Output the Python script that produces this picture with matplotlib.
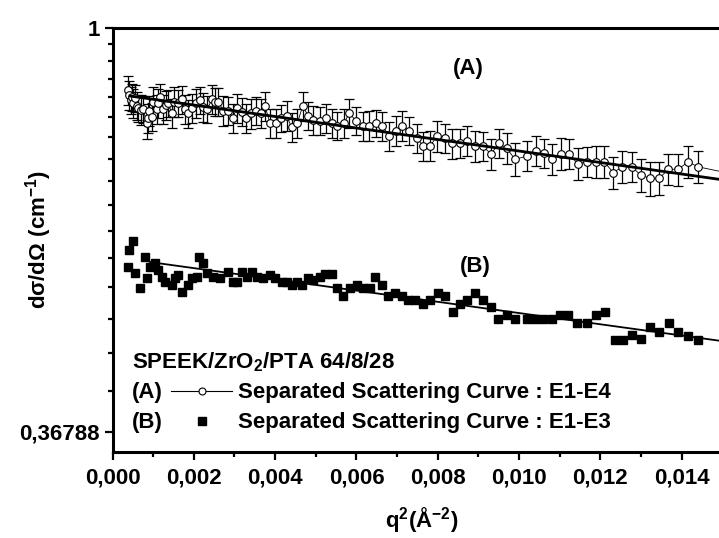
import numpy as np
import matplotlib
matplotlib.use("Agg")
import matplotlib.pyplot as plt
from matplotlib.lines import Line2D
from matplotlib.ticker import FixedLocator, FixedFormatter, MultipleLocator, FuncFormatter

plt.rcParams['font.family'] = ['Liberation Sans', 'DejaVu Sans']
plt.rcParams['font.weight'] = 'bold'
plt.rcParams['mathtext.fontset'] = 'custom'
plt.rcParams['mathtext.rm'] = 'Liberation Sans:bold'
plt.rcParams['mathtext.it'] = 'Liberation Sans:bold'
plt.rcParams['mathtext.bf'] = 'Liberation Sans:bold'
plt.rcParams['mathtext.default'] = 'bf'

# ---------------- data ----------------
# Series A: separated scattering curve E1-E4 (open circles with error bars)
qA = [0.000389, 0.000413, 0.000448, 0.000487, 0.000512, 0.000553, 0.000595, 0.000635,
      0.000694, 0.000757, 0.000841, 0.000880, 0.000905, 0.000964, 0.001003, 0.001087,
      0.001126, 0.001168, 0.001249, 0.001316, 0.001372, 0.001456, 0.001513, 0.001618,
      0.001702, 0.001783, 0.001864, 0.001948, 0.002054, 0.002152, 0.002233, 0.002332,
      0.002440, 0.002521, 0.002602, 0.002725, 0.002848, 0.002956, 0.003055, 0.003178,
      0.003283, 0.003399, 0.003529, 0.003645, 0.003751, 0.003874, 0.004014, 0.004144,
      0.004284, 0.004407, 0.004545, 0.004678, 0.004816, 0.004939, 0.005103, 0.005251,
      0.005391, 0.005529, 0.005694, 0.005824, 0.005989, 0.006153, 0.006316, 0.006473,
      0.006636, 0.006800, 0.006965, 0.007127, 0.007292, 0.007482, 0.007644, 0.007809,
      0.007988, 0.008178, 0.008357, 0.008546, 0.008726, 0.008915, 0.009105, 0.009309,
      0.009506, 0.009695, 0.009899, 0.010202, 0.010408, 0.010612, 0.010809, 0.011023,
      0.011235, 0.011441, 0.011663, 0.011884, 0.012095, 0.012317, 0.012538, 0.012769,
      0.012990, 0.013219, 0.013448, 0.013670, 0.013915, 0.014161, 0.014392, 0.015060]
IA = [0.8571, 0.8465, 0.8361, 0.8417, 0.8294, 0.8396, 0.8238, 0.8191,
      0.8157, 0.8171, 0.7893, 0.7991, 0.8143, 0.8023, 0.8326, 0.8171,
      0.8294, 0.8417, 0.8171, 0.8259, 0.8294, 0.8091, 0.8326, 0.8294,
      0.8376, 0.8171, 0.8091, 0.8191, 0.8294, 0.8361, 0.8212, 0.8171,
      0.8376, 0.8326, 0.8326, 0.8143, 0.8143, 0.7991, 0.8191, 0.8123,
      0.7991, 0.8091, 0.8143, 0.8091, 0.8238, 0.7893, 0.7893, 0.7991,
      0.8036, 0.7815, 0.7893, 0.8238, 0.8036, 0.7957, 0.7944, 0.7991,
      0.7893, 0.7840, 0.7893, 0.8091, 0.7944, 0.7840, 0.7840, 0.7893,
      0.7840, 0.7649, 0.7749, 0.7840, 0.7749, 0.7605, 0.7462, 0.7462,
      0.7649, 0.7605, 0.7512, 0.7512, 0.7560, 0.7462, 0.7462, 0.7316,
      0.7512, 0.7419, 0.7220, 0.7279, 0.7375, 0.7328, 0.7220, 0.7316,
      0.7316, 0.7136, 0.7177, 0.7177, 0.7177, 0.6984, 0.7089, 0.7089,
      0.6945, 0.6888, 0.6888, 0.7044, 0.7044, 0.7177, 0.7089, 0.6990]
errA = [0.031, 0.030, 0.028, 0.029, 0.030, 0.028, 0.029, 0.027,
        0.030, 0.028, 0.031, 0.029, 0.030, 0.028, 0.031, 0.029,
        0.030, 0.028, 0.029, 0.030, 0.028, 0.029, 0.030, 0.028,
        0.029, 0.030, 0.028, 0.029, 0.030, 0.028, 0.029, 0.027,
        0.030, 0.028, 0.029, 0.030, 0.028, 0.029, 0.030, 0.028,
        0.029, 0.030, 0.028, 0.029, 0.030, 0.028, 0.029, 0.027,
        0.030, 0.028, 0.029, 0.030, 0.028, 0.029, 0.027, 0.028,
        0.029, 0.027, 0.028, 0.029, 0.027, 0.028, 0.029, 0.027,
        0.028, 0.027, 0.028, 0.029, 0.027, 0.028, 0.027, 0.028,
        0.029, 0.027, 0.028, 0.027, 0.028, 0.029, 0.027, 0.028,
        0.027, 0.028, 0.029, 0.027, 0.028, 0.027, 0.028, 0.029,
        0.027, 0.028, 0.027, 0.028, 0.029, 0.027, 0.028, 0.027,
        0.028, 0.029, 0.028, 0.027, 0.028, 0.029, 0.028, 0.028]

# Series B: separated scattering curve E1-E3 (filled squares)
qB = [0.000389, 0.000413, 0.000512, 0.000553, 0.000676, 0.000799, 0.000841, 0.000922,
      0.001045, 0.001126, 0.001210, 0.001291, 0.001456, 0.001537, 0.001618, 0.001702,
      0.001864, 0.001948, 0.002071, 0.002135, 0.002233, 0.002317, 0.002479, 0.002644,
      0.002848, 0.002971, 0.003055, 0.003178, 0.003301, 0.003423, 0.003546, 0.003709,
      0.003874, 0.003997, 0.004161, 0.004284, 0.004407, 0.004530, 0.004653, 0.004816,
      0.004939, 0.005103, 0.005226, 0.005391, 0.005514, 0.005676, 0.005841, 0.006006,
      0.006168, 0.006333, 0.006456, 0.006621, 0.006783, 0.006948, 0.007113, 0.007275,
      0.007440, 0.007644, 0.007809, 0.008013, 0.008178, 0.008367, 0.008546, 0.008726,
      0.008915, 0.009120, 0.009301, 0.009488, 0.009695, 0.009899, 0.010187, 0.010391,
      0.010595, 0.010802, 0.011006, 0.011210, 0.011431, 0.011662, 0.011891, 0.012113,
      0.012359, 0.012563, 0.012769, 0.012991, 0.013219, 0.013448, 0.013679, 0.013915,
      0.014161, 0.014407]
IB = [0.5526, 0.5768, 0.5903, 0.5445, 0.5247, 0.5665, 0.5378, 0.5535,
      0.5581, 0.5489, 0.5399, 0.5333, 0.5289, 0.5378, 0.5422, 0.5202,
      0.5289, 0.5378, 0.5391, 0.5665, 0.5581, 0.5445, 0.5399, 0.5378,
      0.5466, 0.5333, 0.5333, 0.5466, 0.5399, 0.5466, 0.5399, 0.5378,
      0.5422, 0.5378, 0.5333, 0.5333, 0.5289, 0.5333, 0.5289, 0.5378,
      0.5355, 0.5399, 0.5435, 0.5435, 0.5247, 0.5148, 0.5247, 0.5289,
      0.5247, 0.5247, 0.5391, 0.5289, 0.5148, 0.5190, 0.5148, 0.5097,
      0.5097, 0.5047, 0.5097, 0.5190, 0.5148, 0.4951, 0.5047, 0.5097,
      0.5190, 0.5097, 0.5005, 0.4859, 0.4911, 0.4859, 0.4859, 0.4859,
      0.4859, 0.4859, 0.4911, 0.4911, 0.4811, 0.4811, 0.4911, 0.4951,
      0.4617, 0.4617, 0.4674, 0.4624, 0.4764, 0.4712, 0.4811, 0.4712,
      0.4662, 0.4617]

# Linear (Guinier) fits, endpoints
fitA_q = [0.00043, 0.0152]
fitA_I = [0.8445, 0.6844]
fitB_q = [0.00092, 0.0152]
fitB_I = [0.5599, 0.4591]

x_major = [0.000, 0.002, 0.004, 0.006, 0.008, 0.010, 0.012, 0.014]
y_major = [np.exp(-1), 1.0]
y_major_labels = ['0,36788', '1']

# ---------------- figure ----------------
W, H = 719, 538
FS = 16
fig = plt.figure(figsize=(W / 100, H / 100), dpi=100)
ax_l, ax_r, ax_t, ax_b = 112.5, 730.5, 27.7, 452.0
ax = fig.add_axes([ax_l / W, 1 - ax_b / H, (ax_r - ax_l) / W, (ax_b - ax_t) / H])

ax.set_yscale('log')
ax.set_xlim(0, 0.0152)
ax.set_ylim(0.3499, 1.0)

# series A
ax.errorbar(qA, IA, yerr=errA, fmt='none', ecolor='black', elinewidth=0.9,
            capsize=3.8, capthick=0.9, zorder=2)
ax.plot(qA, IA, '-', color='black', lw=0.6, marker='o', ms=5.5, mfc='white',
        mec='black', mew=0.8, zorder=3)
ax.plot(fitA_q, fitA_I, '-', color='black', lw=2.0, zorder=4)

# series B
ax.plot(qB, IB, 's', color='black', ms=6, zorder=3)
ax.plot(fitB_q, fitB_I, '-', color='black', lw=1.3, zorder=4)

# axes styling
for s in ['left', 'bottom', 'top', 'right']:
    ax.spines[s].set_linewidth(2.2)
ax.xaxis.set_major_locator(FixedLocator(x_major))
ax.xaxis.set_minor_locator(MultipleLocator(0.001))
ax.xaxis.set_major_formatter(FuncFormatter(lambda v, p: f"{v:.3f}".replace('.', ',')))
ax.yaxis.set_major_locator(FixedLocator(y_major))
ax.yaxis.set_major_formatter(FixedFormatter(y_major_labels))
step = (1 - np.exp(-1)) / 16
ax.yaxis.set_minor_locator(FixedLocator([1 - k * step for k in range(1, 16)]))
ax.yaxis.set_minor_formatter(FixedFormatter([''] * 15))
ax.tick_params(which='both', direction='out', width=1.6, top=False, right=False,
               labelsize=FS)
ax.tick_params(which='major', length=6)
ax.tick_params(which='minor', length=3.5)
ax.tick_params(axis='x', pad=5)
ax.tick_params(axis='y', pad=3)
for lab in ax.get_xticklabels() + ax.get_yticklabels():
    lab.set_fontweight('bold')

ax.set_ylabel('dσ/dΩ (cm$^{-1}$)', fontsize=FS, fontweight='bold')
ax.yaxis.set_label_coords((54 - ax_l) / (ax_r - ax_l), 0.5)
ax.set_xlabel('q$^{2}$(Å$^{-2}$)', fontsize=FS, fontweight='bold', labelpad=12)

# curve labels
ax.text(0.00874, 0.905, '(A)', fontsize=FS, fontweight='bold', ha='center', va='center')
ax.text(0.00892, 0.5535, '(B)', fontsize=FS, fontweight='bold', ha='center', va='center')

# manual legend (pixel positions)
def fx(px):
    return px / W

def fy(py):
    return 1 - py / H

fig.text(fx(132), fy(368), 'SPEEK/ZrO$_2$/PTA 64/8/28', fontsize=FS, fontweight='bold',
         ha='left', va='baseline')
fig.text(fx(132), fy(398), '(A)', fontsize=FS, fontweight='bold', ha='left', va='baseline')
fig.text(fx(238), fy(398), 'Separated Scattering Curve : E1-E4', fontsize=FS,
         fontweight='bold', ha='left', va='baseline')
fig.text(fx(132), fy(428), '(B)', fontsize=FS, fontweight='bold', ha='left', va='baseline')
fig.text(fx(238), fy(428), 'Separated Scattering Curve : E1-E3', fontsize=FS,
         fontweight='bold', ha='left', va='baseline')
fig.add_artist(Line2D([fx(171), fx(232)], [fy(391), fy(391)], color='black', lw=0.8))
fig.add_artist(Line2D([fx(201.5)], [fy(391)], marker='o', ms=5, mfc='white',
                      mec='black', mew=0.8, lw=0))
fig.add_artist(Line2D([fx(201.5)], [fy(421)], marker='s', ms=6, color='black', lw=0))

fig.savefig('out.png', dpi=100)
